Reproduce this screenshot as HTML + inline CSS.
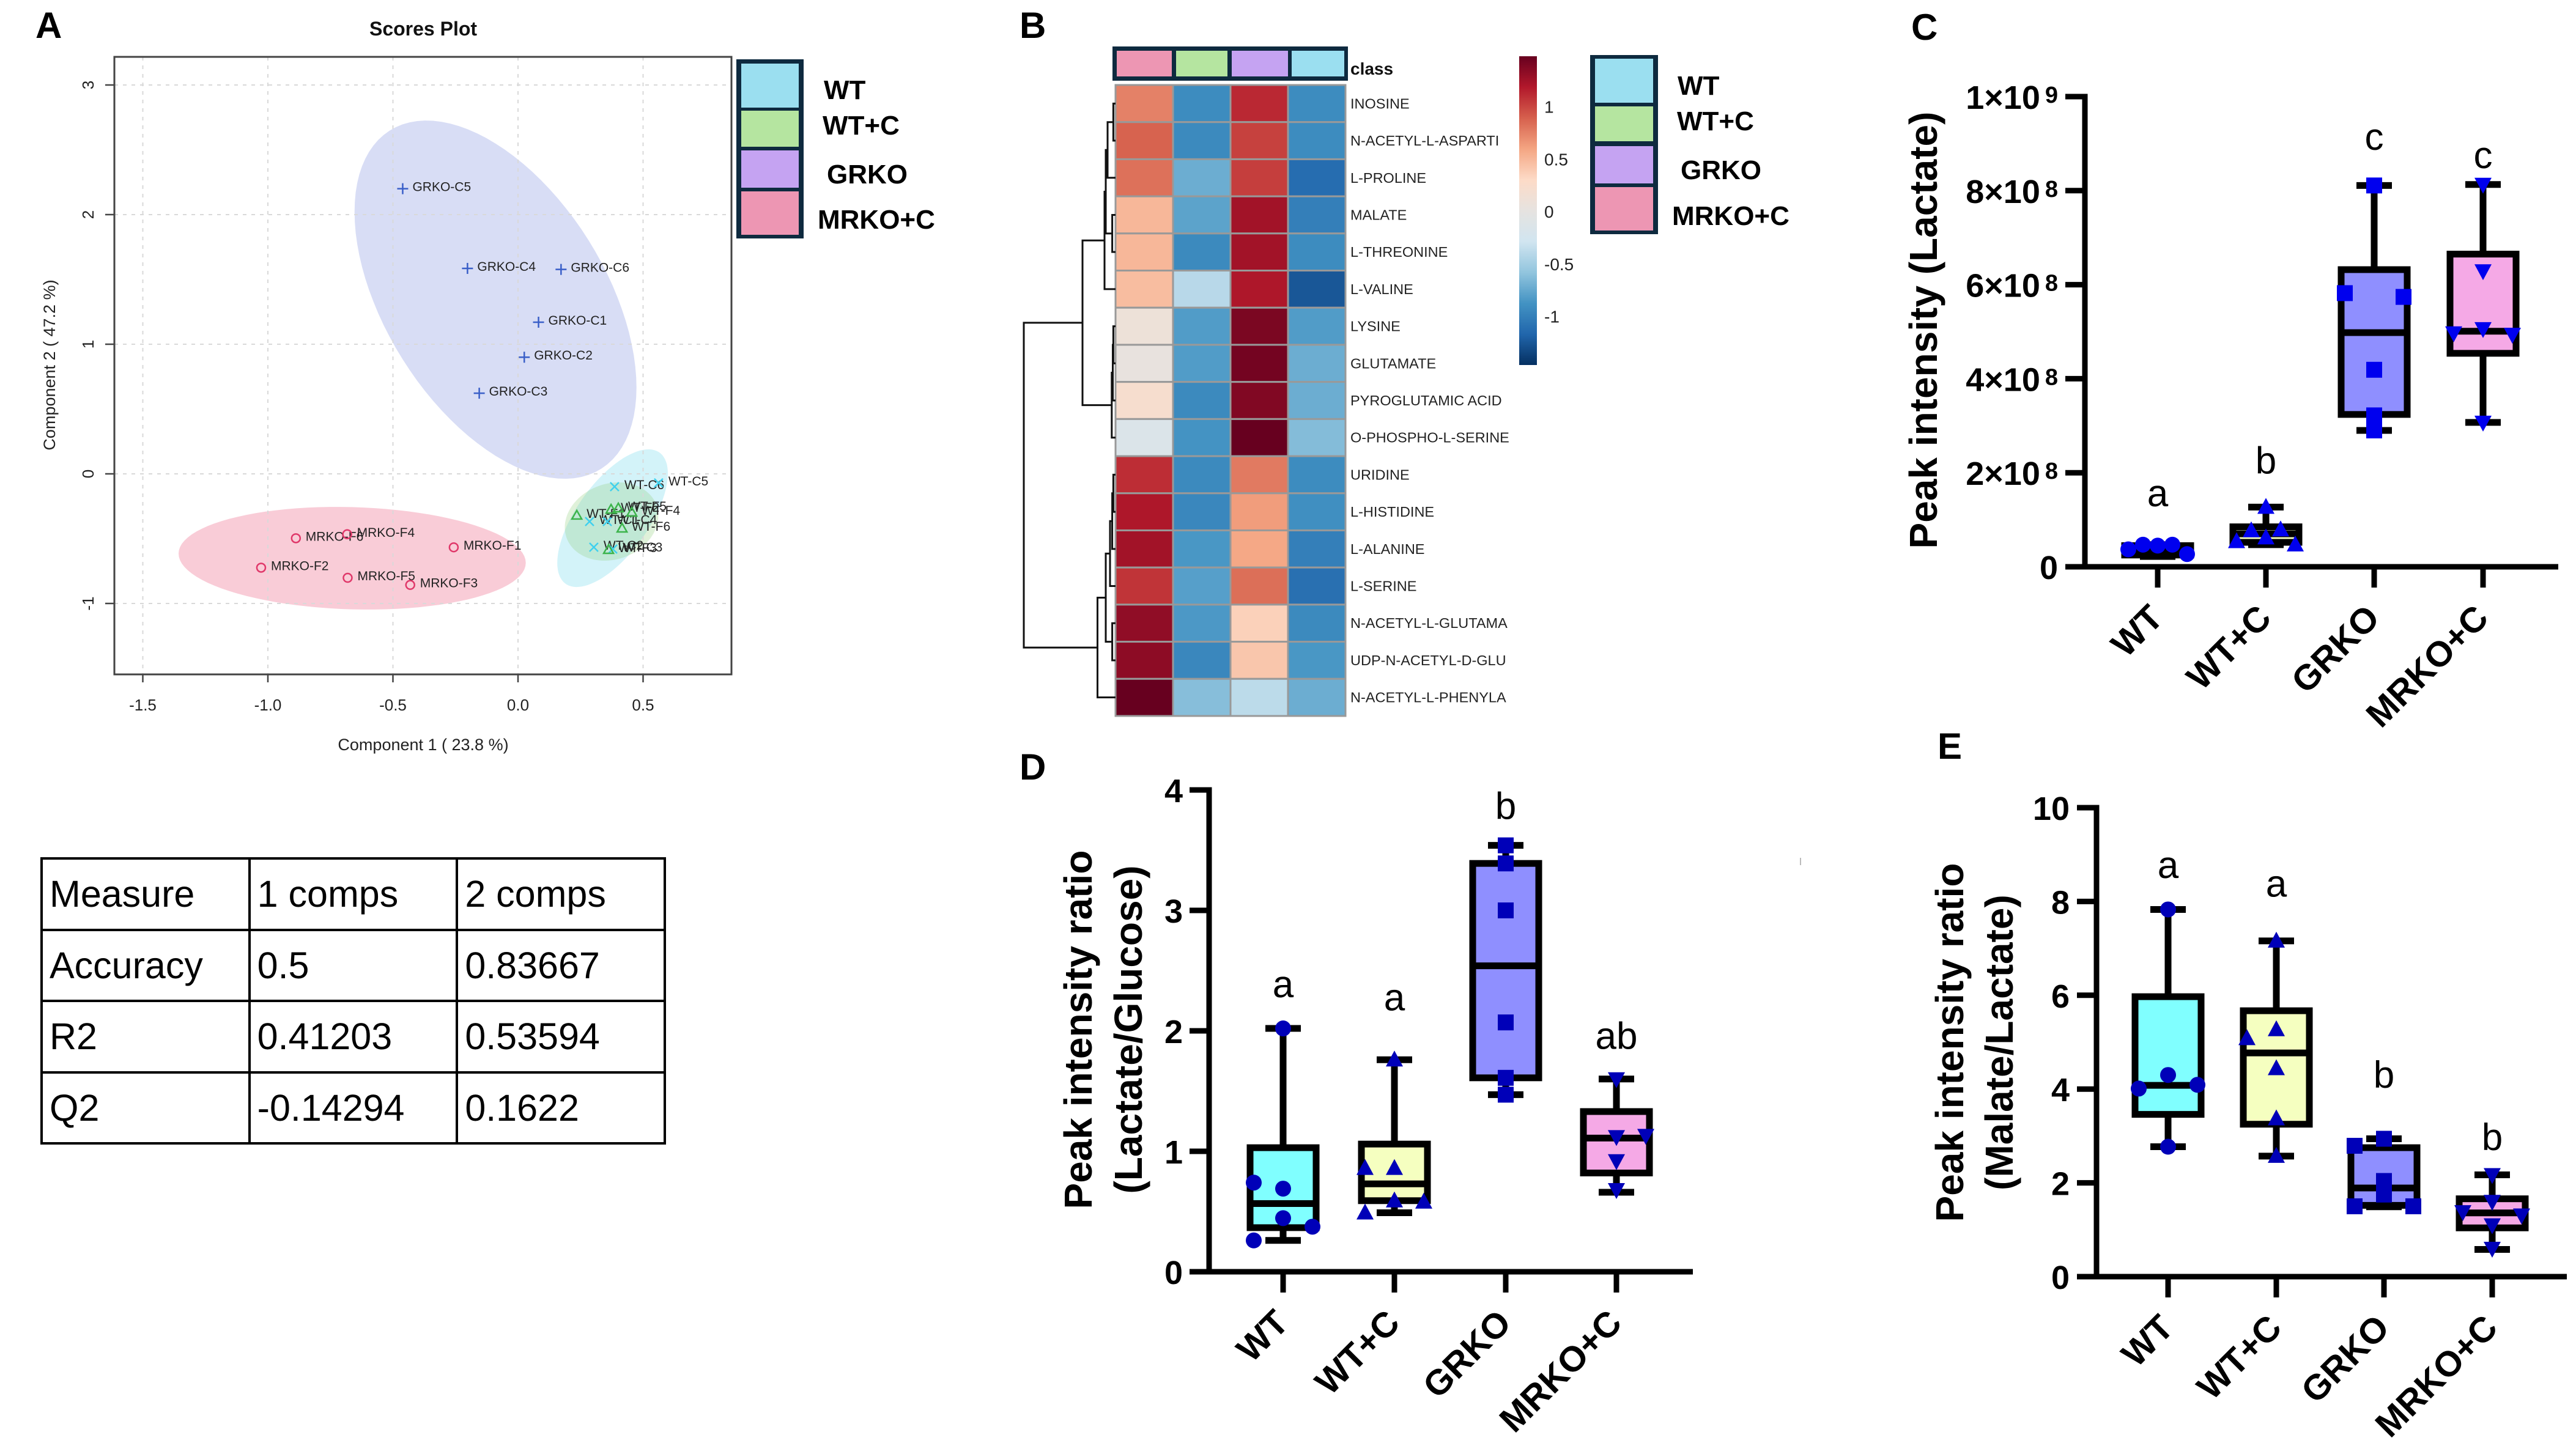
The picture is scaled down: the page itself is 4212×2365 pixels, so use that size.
<!DOCTYPE html>
<html lang="en">
<head>
<meta charset="utf-8">
<title>Metabolomics figure</title>
<style>
html,body{margin:0;padding:0;background:#fff;}
body{width:4212px;height:2365px;position:relative;overflow:hidden;font-family:"Liberation Sans",sans-serif;}
#fig{position:absolute;left:0;top:0;}
#metrics{position:absolute;left:66px;top:1402px;width:1023px;height:466px;border-collapse:collapse;table-layout:fixed;font-size:61px;color:#000;}
#metrics td{border:4px solid #000;height:116.5px;padding:0 0 0 11px;box-sizing:border-box;vertical-align:middle;white-space:nowrap;}
</style>
</head>
<body>
<svg id="fig" xmlns="http://www.w3.org/2000/svg" width="4212" height="2365" viewBox="0 0 4212 2365" font-family="'Liberation Sans',sans-serif">
  <rect width="4212" height="2365" fill="#fff"/>
  <defs><linearGradient id="cbGrad" x1="0" y1="0" x2="0" y2="1"></linearGradient></defs>
  <g id="panelA"></g>
  <g id="panelB"></g>
  <g id="panelC"></g>
  <g id="panelD"></g>
  <g id="panelE"></g>
  <rect x="2943" y="1403" width="2" height="12" fill="#bbb"/>
</svg>

<table id="metrics">
  <tr><td>Measure</td><td>1 comps</td><td>2 comps</td></tr>
  <tr><td>Accuracy</td><td>0.5</td><td>0.83667</td></tr>
  <tr><td>R2</td><td>0.41203</td><td>0.53594</td></tr>
  <tr><td>Q2</td><td>-0.14294</td><td>0.1622</td></tr>
</table>

<script>
/* ---------- shared categories ---------- */
const categories = ['WT', 'WT+C', 'GRKO', 'MRKO+C'];

/* ---------- panel A data ---------- */
const scoreXTicks = [-1.5, -1.0, -0.5, 0.0, 0.5];
const scoreYTicks = [-1, 0, 1, 2, 3];
const grkoLabels = ['GRKO-C5', 'GRKO-C4', 'GRKO-C6', 'GRKO-C1', 'GRKO-C2', 'GRKO-C3'];
const grkoX = [-0.461, -0.202, 0.172, 0.082, 0.025, -0.155];
const grkoY = [2.20, 1.585, 1.577, 1.17, 0.90, 0.622];
const mrkoLabels = ['MRKO-F6', 'MRKO-F4', 'MRKO-F1', 'MRKO-F2', 'MRKO-F5', 'MRKO-F3'];
const mrkoX = [-0.888, -0.683, -0.257, -1.027, -0.681, -0.431];
const mrkoY = [-0.497, -0.466, -0.567, -0.724, -0.802, -0.857];
const wtLabels = ['WT-C6', 'WT-C5', 'WT-C1', 'WT-C4', 'WT-C2', 'WT-C3'];
const wtX = [0.386, 0.562, 0.286, 0.357, 0.303, 0.379];
const wtY = [-0.099, -0.07, -0.368, -0.368, -0.566, -0.58];
const wtcLabels = ['WT-F1', 'WT-F2', 'WT-F5', 'WT-F4', 'WT-F6', 'WT-F3'];
const wtcX = [0.235, 0.372, 0.401, 0.455, 0.416, 0.362];
const wtcY = [-0.32, -0.274, -0.264, -0.297, -0.42, -0.585];
/* ellipse: centre x, centre y, half-extent x, half-extent y, correlation */
const grkoEllipse = [-0.09, 1.344, 0.5636, 1.382, -0.49];
const mrkoEllipse = [-0.663, -0.651, 0.694, 0.396, -0.09];
const wtEllipse = [0.378, -0.342, 0.221, 0.531, 0.65];
const wtcEllipse = [0.374, -0.368, 0.187, 0.302, 0.15];

/* ---------- panel B data ---------- */
const metabolites = ['INOSINE', 'N-ACETYL-L-ASPARTI', 'L-PROLINE', 'MALATE', 'L-THREONINE', 'L-VALINE', 'LYSINE', 'GLUTAMATE', 'PYROGLUTAMIC ACID', 'O-PHOSPHO-L-SERINE', 'URIDINE', 'L-HISTIDINE', 'L-ALANINE', 'L-SERINE', 'N-ACETYL-L-GLUTAMA', 'UDP-N-ACETYL-D-GLU', 'N-ACETYL-L-PHENYLA'];
const heatMrkoC = [0.75, 0.88, 0.82, 0.50, 0.50, 0.47, 0.10, 0.03, 0.22, -0.15, 1.10, 1.20, 1.25, 1.07, 1.32, 1.33, 1.48];
const heatWtC = [-0.92, -0.93, -0.72, -0.78, -0.93, -0.40, -0.82, -0.82, -0.93, -0.87, -0.93, -0.95, -0.85, -0.80, -0.84, -0.95, -0.62];
const heatGrko = [1.12, 1.02, 1.03, 1.25, 1.25, 1.20, 1.40, 1.43, 1.38, 1.48, 0.78, 0.63, 0.58, 0.83, 0.36, 0.42, -0.38];
const heatWt = [-0.92, -0.92, -1.12, -1.0, -0.92, -1.25, -0.82, -0.72, -0.72, -0.63, -0.92, -0.90, -1.0, -1.10, -0.93, -0.85, -0.72];
const colorbarTicks = [1, 0.5, 0, -0.5, -1];
/* dendrogram merges: [merge distance, left child, right child]; a number is a row index */
const dendroTree = [150,
  [54,
    [18, [16, [13, [3.6, 0, 1], 2], [5.4, 3, 4]], 5],
    [6.2, [4.5, [3.6, 6, 7], 8], 9]],
  [29.5, [16, [9, [5.4, [3.6, 10, 11], 12], 13], [5.4, 14, 15]], 16]];

/* ---------- panel C data (units of 1e8): low whisker, Q1, median, Q3, high whisker ---------- */
const cTicks = [0, 2, 4, 6, 8, 10];
const cTickLabels = ['0', '2×10', '4×10', '6×10', '8×10', '1×10'];
const cTickExponents = ['', '8', '8', '8', '8', '9'];
const cLetters = ['a', 'b', 'c', 'c'];
const cLetterLevels = [1.29, 1.98, 8.87, 8.48];
const cWtBox = [0.22, 0.25, 0.38, 0.45, 0.47];
const cWtcBox = [0.47, 0.52, 0.70, 0.85, 1.27];
const cGrkoBox = [2.90, 3.24, 4.98, 6.32, 8.11];
const cMrkoBox = [3.07, 4.54, 5.01, 6.65, 8.13];
const cWtPoints = [0.37, 0.47, 0.45, 0.47, 0.27];
const cWtSwarm = [-2, -1, 0, 1, 2];
const cWtcPoints = [0.54, 0.77, 0.62, 0.79, 0.47, 1.27];
const cWtcSwarm = [-2, -1, 0, 1, 2, 0];
const cGrkoPoints = [5.82, 5.74, 4.19, 3.22, 2.90, 8.11];
const cGrkoSwarm = [-2, 2, 0, 0, 0, 0];
const cMrkoPoints = [8.13, 6.29, 4.97, 5.06, 4.94, 3.07];
const cMrkoSwarm = [0, 0, -2, 0, 2, 0];

/* ---------- panel D data ---------- */
const dTicks = [0, 1, 2, 3, 4];
const dTickLabels = ['0', '1', '2', '3', '4'];
const dLetters = ['a', 'a', 'b', 'ab'];
const dLetterLevels = [2.28, 2.17, 3.76, 1.85];
const dWtBox = [0.26, 0.366, 0.566, 1.03, 2.02];
const dWtcBox = [0.49, 0.59, 0.73, 1.06, 1.76];
const dGrkoBox = [1.47, 1.61, 2.54, 3.39, 3.54];
const dMrkoBox = [0.66, 0.82, 1.11, 1.33, 1.60];
const dWtPoints = [0.74, 0.69, 0.445, 0.374, 0.26, 2.02];
const dWtSwarm = [-2, 0, 0, 2, -2, 0];
const dWtcPoints = [0.86, 0.86, 0.59, 0.58, 0.49, 1.76];
const dWtcSwarm = [-2, 0, 0, 2, -2, 0];
const dGrkoPoints = [3.54, 3.39, 3.0, 2.07, 1.61, 1.47];
const dGrkoSwarm = [0, 0, 0, 0, 0, 0];
const dMrkoPoints = [1.60, 1.12, 1.13, 0.92, 0.68];
const dMrkoSwarm = [0, 0, 2, 0, 0];

/* ---------- panel E data ---------- */
const eTicks = [0, 2, 4, 6, 8, 10];
const eTickLabels = ['0', '2', '4', '6', '8', '10'];
const eLetters = ['a', 'a', 'b', 'b'];
const eLetterLevels = [8.5, 8.1, 4.03, 2.7];
const eWtBox = [2.77, 3.46, 4.08, 5.97, 7.83];
const eWtcBox = [2.57, 3.25, 4.77, 5.67, 7.16];
const eGrkoBox = [1.49, 1.52, 1.89, 2.75, 2.94];
const eMrkoBox = [0.58, 1.04, 1.36, 1.66, 2.17];
const eWtPoints = [7.83, 4.30, 4.01, 4.09, 2.77];
const eWtSwarm = [0, 0, -2, 2, 0];
const eWtcPoints = [7.16, 5.08, 5.27, 4.44, 3.37, 2.57];
const eWtcSwarm = [0, -2, 0, 0, 0, 0];
const eGrkoPoints = [2.94, 2.79, 2.04, 1.75, 1.50, 1.50];
const eGrkoSwarm = [0, -2, 0, 0, -2, 2];
const eMrkoPoints = [2.17, 1.60, 1.38, 1.31, 1.10, 0.60];
const eMrkoSwarm = [0, 0, -2, 2, 0, 0];

/* ---------- helpers ---------- */
const NS = 'http://www.w3.org/2000/svg';
function mk(tag, parent, attrs, txt) {
  const el = document.createElementNS(NS, tag);
  for (const k in attrs) el.setAttribute(k, attrs[k]);
  if (txt !== undefined) el.textContent = txt;
  parent.appendChild(el);
  return el;
}
const LEGEND_BORDER = '#0e2a3f';
const WT_CYAN = '#9bdff0', WTC_GREEN = '#b5e5a0', GRKO_PURPLE = '#c5a3f2', MRKO_PINK = '#ed96b3';

function panelLetter(parent, ch, x, y) {
  const el = mk('text', parent, {x: x, y: y, 'font-size': 60, 'font-weight': 700, fill: '#000'}, ch);
  
  
}

function legend(parent, frame, cells, labelXs, labelYs) {
  const names = ['WT', 'WT+C', 'GRKO', 'MRKO+C'];
  const fills = [WT_CYAN, WTC_GREEN, GRKO_PURPLE, MRKO_PINK];
  const g = mk('g', parent, {});
  
  
  const bg = mk('rect', g, {x: frame[0], y: frame[1], width: frame[2], height: frame[3], fill: LEGEND_BORDER});
  
  
  names.forEach(function (n, i) {
    const sw = mk('rect', g, {x: frame[0] + 8, y: cells[i][0], width: frame[2] - 16, height: cells[i][1] - cells[i][0], fill: fills[i]});
    
    
    const t = mk('text', g, {x: labelXs[i], y: labelYs[i] + 16, 'font-size': 44, 'font-weight': 700, fill: '#000'}, n);
    
    
  });
}

/* ---------- panel A ---------- */
(function () {
  const p = document.getElementById('panelA');
  const L = 187, R = 1196, T = 93, B = 1103;
  const sx = v => 847 + 409 * v;
  const sy = v => 775 - 212 * v;
  panelLetter(p, 'A', 58, 62);
  const title = mk('text', p, {x: 692, y: 58, 'font-size': 32, 'font-weight': 700, 'text-anchor': 'middle', fill: '#111'}, 'Scores Plot');
  
  

  function ellipse(e, fill) {
    let d = '';
    for (let i = 0; i <= 96; i++) {
      const t = i / 96 * 2 * Math.PI;
      const dx = e[2] * Math.cos(t);
      const dy = e[3] * (e[4] * Math.cos(t) + Math.sqrt(1 - e[4] * e[4]) * Math.sin(t));
      d += (i ? 'L' : 'M') + sx(e[0] + dx).toFixed(1) + ' ' + sy(e[1] + dy).toFixed(1);
    }
    return mk('path', p, {d: d + 'Z', fill: fill, stroke: 'none'});
  }
  const e1 = ellipse(grkoEllipse, '#d8ddf5');
  
  
  const e2 = ellipse(mrkoEllipse, '#f9ccd7');
  
  
  const e3 = ellipse(wtEllipse, '#d3f3f9');
  
  
  const e4 = ellipse(wtcEllipse, 'rgba(150,210,130,0.3)');
  
  

  scoreXTicks.forEach(function (v) {
    const x = sx(v);
    const g = mk('line', p, {x1: x, x2: x, y1: T, y2: B, stroke: '#d9d9d9', 'stroke-width': 2, 'stroke-dasharray': '6 8'});
    
    
    const tk = mk('line', p, {x1: x, x2: x, y1: B, y2: B + 13, stroke: '#444', 'stroke-width': 2.5});
    
    
    const lb = mk('text', p, {x: x, y: 1162, 'font-size': 26, 'text-anchor': 'middle', fill: '#222'}, v.toFixed(1));
    
    
  });
  scoreYTicks.forEach(function (v) {
    const y = sy(v);
    const g = mk('line', p, {x1: L, x2: R, y1: y, y2: y, stroke: '#d9d9d9', 'stroke-width': 2, 'stroke-dasharray': '6 8'});
    
    
    const tk = mk('line', p, {x1: L - 15, x2: L, y1: y, y2: y, stroke: '#444', 'stroke-width': 2.5});
    
    
    const lb = mk('text', p, {x: 153, y: y, 'font-size': 26, 'text-anchor': 'middle', fill: '#222', transform: 'rotate(-90 153 ' + y + ')'}, String(v));
    
    
  });
  const frame = mk('rect', p, {x: L, y: T, width: R - L, height: B - T, fill: 'none', stroke: '#444', 'stroke-width': 3});
  
  
  const xt = mk('text', p, {x: 692, y: 1227, 'font-size': 27, 'text-anchor': 'middle', fill: '#222'}, 'Component 1 ( 23.8 %)');
  
  
  const yt = mk('text', p, {x: 90, y: 597, 'font-size': 27, 'text-anchor': 'middle', fill: '#222', transform: 'rotate(-90 90 597)'}, 'Component 2 ( 47.2 %)');
  
  

  function labelAt(x, y, s) {
    const t = mk('text', p, {x: x + 16, y: y + 4, 'font-size': 21, fill: '#222'}, s);
    
    
  }
  grkoX.forEach(function (v, i) {
    const x = sx(v), y = sy(grkoY[i]);
    const m = mk('path', p, {d: 'M' + (x - 9) + ' ' + y + 'H' + (x + 9) + 'M' + x + ' ' + (y - 9) + 'V' + (y + 9), stroke: '#3a5fc8', 'stroke-width': 2.5, fill: 'none'});
    
    
    labelAt(x, y, grkoLabels[i]);
  });
  mrkoX.forEach(function (v, i) {
    const x = sx(v), y = sy(mrkoY[i]);
    const m = mk('circle', p, {cx: x, cy: y, r: 7, stroke: '#e0386a', 'stroke-width': 2.5, fill: 'none'});
    
    
    labelAt(x, y, mrkoLabels[i]);
  });
  wtX.forEach(function (v, i) {
    const x = sx(v), y = sy(wtY[i]);
    const m = mk('path', p, {d: 'M' + (x - 7) + ' ' + (y - 7) + 'L' + (x + 7) + ' ' + (y + 7) + 'M' + (x + 7) + ' ' + (y - 7) + 'L' + (x - 7) + ' ' + (y + 7), stroke: '#40d0ee', 'stroke-width': 2.5, fill: 'none'});
    
    
    labelAt(x, y, wtLabels[i]);
  });
  wtcX.forEach(function (v, i) {
    const x = sx(v), y = sy(wtcY[i]);
    const m = mk('path', p, {d: 'M' + x + ' ' + (y - 8) + 'L' + (x + 8) + ' ' + (y + 6) + 'L' + (x - 8) + ' ' + (y + 6) + 'Z', stroke: '#3cb44b', 'stroke-width': 2.5, fill: 'none'});
    
    
    labelAt(x, y, wtcLabels[i]);
  });
  legend(p, [1204, 97, 110, 293], [[104, 176], [181, 240], [246, 307], [313, 384]], [1347, 1345, 1352, 1337], [146, 204, 284, 358]);
})();

/* ---------- panel B ---------- */
(function () {
  const p = document.getElementById('panelB');
  const L = 1824, T = 139, CW = 94, RH = (1171 - 139) / 17;
  const ramp = ['#67001f', '#b2182b', '#d6604d', '#f4a582', '#fddbc7', '#e6e3e0', '#d1e5f0', '#92c5de', '#4393c3', '#2166ac', '#053061'];
  const cbTop = 1.48, cbBottom = -1.46;
  function hex(c) { return [1, 3, 5].map(i => parseInt(c.substr(i, 2), 16)); }
  function color(v) {
    const f = Math.max(0, Math.min(1, (cbTop - v) / (cbTop - cbBottom))) * (ramp.length - 1);
    const i = Math.min(ramp.length - 2, Math.floor(f));
    const a = hex(ramp[i]), b = hex(ramp[i + 1]), t = f - i;
    return 'rgb(' + a.map((x, k) => Math.round(x + (b[k] - x) * t)).join(',') + ')';
  }
  const rowY = i => T + RH * (i + 0.5);
  const distX = d => L - d;

  panelLetter(p, 'B', 1667, 62);

  const bar = mk('rect', p, {x: 1819, y: 76, width: 385, height: 56, fill: LEGEND_BORDER});
  
  
  [[1826, 1916, MRKO_PINK], [1923, 2007, WTC_GREEN], [2014, 2106, GRKO_PURPLE], [2112, 2198, WT_CYAN]].forEach(function (c) {
    const r = mk('rect', p, {x: c[0], y: 83, width: c[1] - c[0], height: 42, fill: c[2]});
    
    
  });
  const cl = mk('text', p, {x: 2208, y: 122, 'font-size': 28, 'font-weight': 700, fill: '#111'}, 'class');
  
  

  [heatMrkoC, heatWtC, heatGrko, heatWt].forEach(function (col, j) {
    col.forEach(function (v, i) {
      const c = mk('rect', p, {x: L + CW * j, y: T + RH * i, width: CW, height: RH, fill: color(v), stroke: '#999', 'stroke-width': 3});
      
      
    });
  });
  metabolites.forEach(function (m, i) {
    const t = mk('text', p, {x: 2208, y: rowY(i) + 8, 'font-size': 23.5, fill: '#222'}, m);
    
    
  });

  function drawNode(n) {
    if (typeof n === 'number') return {x: L, y: rowY(n)};
    const a = drawNode(n[1]), b = drawNode(n[2]);
    const x = distX(n[0]);
    const d = 'M' + a.x + ' ' + a.y + 'H' + x + 'V' + b.y + 'H' + b.x;
    const el = mk('path', p, {d: d, fill: 'none', stroke: '#111', 'stroke-width': 3});
    
    
    return {x: x, y: (a.y + b.y) / 2};
  }
  drawNode(dendroTree);

  const grad = document.getElementById('cbGrad');
  ramp.forEach(function (c, i) {
    mk('stop', grad, {offset: i / (ramp.length - 1), 'stop-color': c});
  });
  const cb = mk('rect', p, {x: 2484, y: 92, width: 29, height: 505, fill: 'url(#cbGrad)'});
  
  
  colorbarTicks.forEach(function (v) {
    const y = 346 - 171.5 * v;
    const t = mk('text', p, {x: 2525, y: y + 10, 'font-size': 28, fill: '#222'}, String(v));
    
    
  });
  legend(p, [2600, 90, 111, 293], [[96, 168], [174, 231], [239, 300], [306, 377]], [2743, 2742, 2748, 2734], [139, 197, 277, 352]);
})();

/* ---------- box charts ---------- */
const BOX_FILLS = ['#80ffff', '#f5ffc0', '#8f8fff', '#f5a9e6'];
const SHAPES = ['circle', 'triUp', 'square', 'triDown'];

function marker(g, shape, x, y, color) {
  if (shape === 'circle') return mk('circle', g, {cx: x, cy: y, r: 13, fill: color});
  if (shape === 'square') return mk('rect', g, {x: x - 13, y: y - 13, width: 26, height: 26, fill: color});
  if (shape === 'triUp') return mk('path', g, {d: 'M' + x + ' ' + (y - 15) + 'L' + (x + 14) + ' ' + (y + 11) + 'L' + (x - 14) + ' ' + (y + 11) + 'Z', fill: color});
  return mk('path', g, {d: 'M' + x + ' ' + (y + 15) + 'L' + (x + 14) + ' ' + (y - 11) + 'L' + (x - 14) + ' ' + (y - 11) + 'Z', fill: color});
}

function boxChart(c) {
  const p = c.parent;
  const sy = v => c.zeroY - (c.zeroY - c.topY) * v / c.maxV;
  const lw = 11;
  c.boxes.forEach(function (b, i) {
    const cx = c.xs[i];
    const g = mk('g', p, {});
    
    
    const wh = mk('line', g, {x1: cx, x2: cx, y1: sy(b[0]), y2: sy(b[4]), stroke: '#000', 'stroke-width': lw});
    
    
    const lo = mk('line', g, {x1: cx - 29, x2: cx + 29, y1: sy(b[0]), y2: sy(b[0]), stroke: '#000', 'stroke-width': lw});
    
    
    const hi = mk('line', g, {x1: cx - 29, x2: cx + 29, y1: sy(b[4]), y2: sy(b[4]), stroke: '#000', 'stroke-width': lw});
    
    
    const r = mk('rect', g, {x: cx - 54, y: sy(b[3]), width: 108, height: sy(b[1]) - sy(b[3]), fill: BOX_FILLS[i], stroke: '#000', 'stroke-width': lw});
    
    
    const md = mk('line', g, {x1: cx - 54, x2: cx + 54, y1: sy(b[2]), y2: sy(b[2]), stroke: '#000', 'stroke-width': lw});
    
    
    c.points[i].forEach(function (v, k) {
      const m = marker(g, SHAPES[i], cx + c.swarm[i][k] * 24, sy(v), c.markerColor);
      
      
    });
    const l = mk('text', p, {x: cx, y: sy(c.letterLevels[i]), 'font-size': 62, 'text-anchor': 'middle', fill: '#000'}, c.letters[i]);
    
    
    const tk = mk('line', p, {x1: cx, x2: cx, y1: c.zeroY, y2: c.zeroY + 34, stroke: '#000', 'stroke-width': 9});
    
    
    const ax = cx + 12, ay = c.zeroY + 87;
    const lb = mk('text', p, {x: ax, y: ay, 'font-size': 58, 'font-weight': 700, 'text-anchor': 'end', fill: '#000', transform: 'rotate(-45 ' + ax + ' ' + ay + ')'}, categories[i]);
    
    
  });
  const ya = mk('line', p, {x1: c.axisX, x2: c.axisX, y1: c.topY - 4.5, y2: c.zeroY + 4.5, stroke: '#000', 'stroke-width': 9});
  
  
  const xa = mk('line', p, {x1: c.axisX - 32, x2: c.xEnd, y1: c.zeroY, y2: c.zeroY, stroke: '#000', 'stroke-width': 9});
  
  
  c.ticks.forEach(function (v, i) {
    const y = sy(v);
    const tk = mk('line', p, {x1: c.axisX - 32, x2: c.axisX, y1: y, y2: y, stroke: '#000', 'stroke-width': 9});
    
    
    const t = mk('text', p, {x: c.labelRight, y: y + 20, 'font-size': 54, 'font-weight': 700, 'text-anchor': 'end', fill: '#000'}, c.tickLabels[i]);
    
    
    if (c.exponents && c.exponents[i]) {
      mk('tspan', t, {'font-size': 38, dx: 8, dy: -10}, c.exponents[i]);
    }
  });
  c.titles.forEach(function (tt) {
    const t = mk('text', p, {x: tt[1], y: c.titleY, 'font-size': 64, 'font-weight': 700, 'text-anchor': 'middle', fill: '#000', transform: 'rotate(-90 ' + tt[1] + ' ' + c.titleY + ')'}, tt[0]);
    
    
  });
}

(function () {
  const pc = document.getElementById('panelC');
  panelLetter(pc, 'C', 3125, 65);
  boxChart({
    parent: pc, zeroY: 927, topY: 158, maxV: 10, axisX: 3409, xEnd: 4183, labelRight: 3365,
    xs: [3528, 3705, 3882, 4060],
    boxes: [cWtBox, cWtcBox, cGrkoBox, cMrkoBox],
    points: [cWtPoints, cWtcPoints, cGrkoPoints, cMrkoPoints],
    swarm: [cWtSwarm, cWtcSwarm, cGrkoSwarm, cMrkoSwarm],
    markerColor: '#0000ee',
    letters: cLetters, letterLevels: cLetterLevels,
    ticks: cTicks, tickLabels: cTickLabels, exponents: cTickExponents,
    titles: [['Peak intensity (Lactate)', 3167]], titleY: 540
  });
  const pd = document.getElementById('panelD');
  panelLetter(pd, 'D', 1667, 1275);
  boxChart({
    parent: pd, zeroY: 2080, topY: 1292, maxV: 4, axisX: 1977, xEnd: 2768, labelRight: 1934,
    xs: [2098, 2280, 2462, 2643],
    boxes: [dWtBox, dWtcBox, dGrkoBox, dMrkoBox],
    points: [dWtPoints, dWtcPoints, dGrkoPoints, dMrkoPoints],
    swarm: [dWtSwarm, dWtcSwarm, dGrkoSwarm, dMrkoSwarm],
    markerColor: '#0000b8',
    letters: dLetters, letterLevels: dLetterLevels,
    ticks: dTicks, tickLabels: dTickLabels,
    titles: [['Peak intensity ratio', 1785], ['(Lactate/Glucose)', 1867]], titleY: 1684
  });
  const pe = document.getElementById('panelE');
  panelLetter(pe, 'E', 3168, 1241);
  boxChart({
    parent: pe, zeroY: 2088, topY: 1321, maxV: 10, axisX: 3428, xEnd: 4197, labelRight: 3384,
    xs: [3545, 3722, 3898, 4075],
    boxes: [eWtBox, eWtcBox, eGrkoBox, eMrkoBox],
    points: [eWtPoints, eWtcPoints, eGrkoPoints, eMrkoPoints],
    swarm: [eWtSwarm, eWtcSwarm, eGrkoSwarm, eMrkoSwarm],
    markerColor: '#0000b8',
    letters: eLetters, letterLevels: eLetterLevels,
    ticks: eTicks, tickLabels: eTickLabels,
    titles: [['Peak intensity ratio', 3210], ['(Malate/Lactate)', 3291]], titleY: 1705
  });
})();
</script>
</body>
</html>
